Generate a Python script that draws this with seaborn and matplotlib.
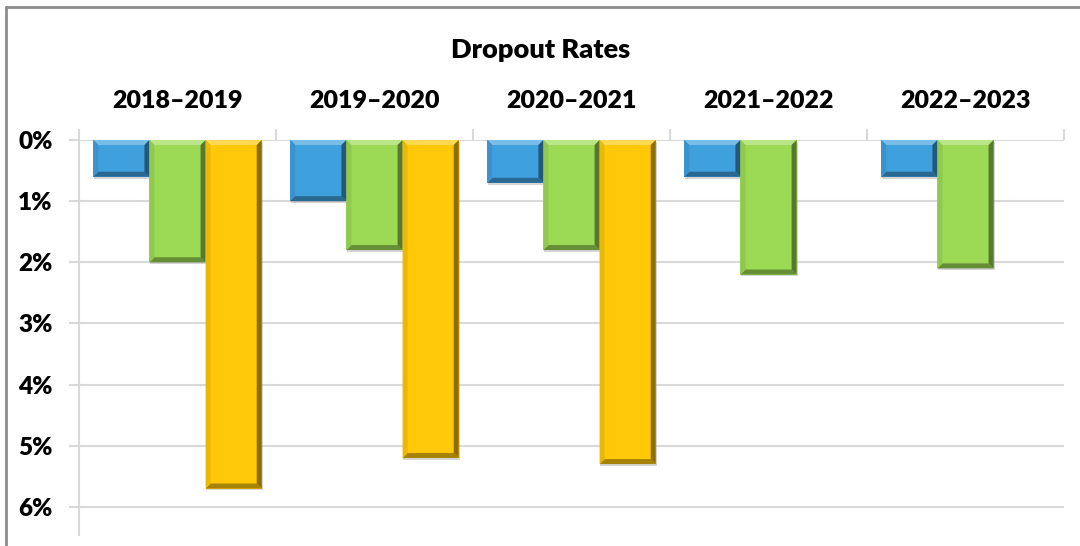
import numpy as np
import pandas as pd
import matplotlib
matplotlib.use("Agg")
import matplotlib.pyplot as plt
from matplotlib.patches import Polygon
from matplotlib.lines import Line2D
import seaborn as sns

# ---- data ----
years = ["2018–2019", "2019–2020", "2020–2021", "2021–2022", "2022–2023"]
series_names = ["Series 1", "Series 2", "Series 3"]
blue_vals = [0.6, 1.0, 0.7, 0.6, 0.6]
green_vals = [2.0, 1.8, 1.8, 2.2, 2.1]
yellow_vals = [5.7, 5.2, 5.3, np.nan, np.nan]
y_ticks = [0, 1, 2, 3, 4, 5, 6]
y_tick_labels = ["0%", "1%", "2%", "3%", "4%", "5%", "6%"]
title = "Dropout Rates"

colors = ["#3FA0DE", "#9CDA55", "#FFC808"]

df = pd.DataFrame({
    "year": years * 3,
    "series": [series_names[0]] * 5 + [series_names[1]] * 5 + [series_names[2]] * 5,
    "rate": blue_vals + green_vals + yellow_vals,
})

sns.set_theme(style="white")
plt.rcParams["font.family"] = ["Lato", "DejaVu Sans"]
FW = "heavy"

W, H = 1080, 546
fig = plt.figure(figsize=(W / 100, H / 100), dpi=100)
ax = fig.add_axes([79 / W, 1 - 535 / H, (1064 - 79) / W, (535 - 140) / H])

sns.barplot(data=df, x="year", y="rate", hue="series", order=years,
            hue_order=series_names, palette=colors, width=0.855, gap=0,
            dodge=True, legend=False, ax=ax, saturation=1, linewidth=0)

ax.set_xlim(-0.5, len(years) - 0.5)
ax.set_ylim(6.46, 0)

grid_c = "#D9D9D9"
ax.set_yticks(y_ticks)
ax.set_yticklabels(y_tick_labels, fontsize=17.5, fontweight=FW, color="black")
ax.yaxis.grid(True, color=grid_c, linewidth=1.5)
ax.set_axisbelow(True)
ax.tick_params(axis="y", length=7, width=1.5, color=grid_c, pad=12, left=True)

ax.xaxis.tick_top()
ax.set_xticks(range(len(years)))
ax.set_xticklabels(years, fontsize=18, fontweight=FW, color="black")
ax.set_xticks(np.arange(-0.5, len(years)), minor=True)
ax.tick_params(axis="x", which="major", length=0, pad=20, top=True, bottom=False)
ax.tick_params(axis="x", which="minor", length=8, width=1.5, color=grid_c,
               top=True, bottom=False)
ax.set_xlabel("")
ax.set_ylabel("")

for s in ["top", "right", "bottom"]:
    ax.spines[s].set_visible(False)
ax.spines["left"].set_color(grid_c)
ax.spines["left"].set_linewidth(1.5)

# ---- bevel effect derived from the drawn bars ----
def shade(c, f):
    r = np.array(matplotlib.colors.to_rgb(c))
    if f >= 0:
        r = r + (1 - r) * f
    else:
        r = r * (1 + f)
    return tuple(np.clip(r, 0, 1))

bx = 5 / 197.0
by = 5 / 61.2
for p in list(ax.patches):
    h = p.get_height()
    if not np.isfinite(h) or h == 0:
        continue
    x0, w, y0 = p.get_x(), p.get_width(), p.get_y()
    x1, y1 = x0 + w, y0 + h
    base = p.get_facecolor()
    # soft shadow (right & bottom)
    ax.add_patch(Polygon([(x1, y0 + 0.03), (x1 + 0.006, y0 + 0.03), (x1 + 0.006, y1 + 0.03),
                          (x0 + 0.004, y1 + 0.03), (x0 + 0.004, y1), (x1, y1)], closed=True,
                         facecolor="#777777", edgecolor="none", alpha=0.3, zorder=1.9))
    # top (visually top = y0 since axis inverted)
    ax.add_patch(Polygon([(x0, y0), (x1, y0), (x1 - bx, y0 + by), (x0 + bx, y0 + by)],
                         closed=True, facecolor=shade(base, 0.3), edgecolor="none", zorder=3))
    # bottom
    ax.add_patch(Polygon([(x0, y1), (x1, y1), (x1 - bx, y1 - by), (x0 + bx, y1 - by)],
                         closed=True, facecolor=shade(base, -0.35), edgecolor="none", zorder=3))
    # left
    ax.add_patch(Polygon([(x0, y0), (x0 + bx, y0 + by), (x0 + bx, y1 - by), (x0, y1)],
                         closed=True, facecolor=shade(base, -0.08), edgecolor="none", zorder=3))
    # right
    ax.add_patch(Polygon([(x1, y0), (x1 - bx, y0 + by), (x1 - bx, y1 - by), (x1, y1)],
                         closed=True, facecolor=shade(base, -0.45), edgecolor="none", zorder=3))
    p.set_zorder(2.5)

# ---- title & outer frame ----
fig.text(541 / W, 1 - 50 / H, title, ha="center", va="center",
         fontsize=19.5, fontweight=FW, color="black")
frame_c = "#8C8C8C"
fig.add_artist(Line2D([6 / W, 6 / W], [0, 1 - 7 / H], transform=fig.transFigure,
                      color=frame_c, linewidth=2))
fig.add_artist(Line2D([6 / W, 1], [1 - 7 / H, 1 - 7 / H], transform=fig.transFigure,
                      color=frame_c, linewidth=2))

fig.savefig("out.png", dpi=100, facecolor="white")
